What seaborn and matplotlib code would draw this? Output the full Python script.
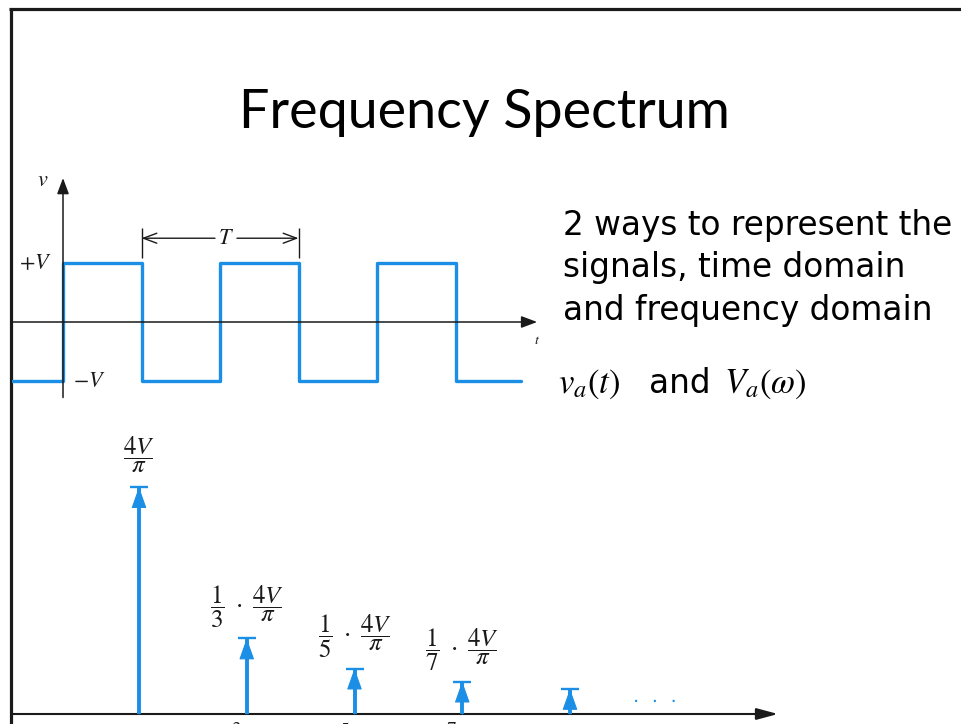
import matplotlib
matplotlib.use("Agg")
import matplotlib.pyplot as plt
import seaborn as sns

sns.set_theme(style="white")
plt.rcParams["font.family"] = ["DejaVu Sans"]
plt.rcParams["mathtext.fontset"] = "stix"

# ---- data ---------------------------------------------------------------
# square wave: time in periods T, level in units of V
wave_t = [-0.325, 0.0, 0.5, 1.0, 1.5, 2.0, 2.5, 2.92]
wave_v = [-1, 1, -1, 1, -1, 1, -1, -1]

# line spectrum of the square wave: odd harmonics, amplitude in units of V
harmonics = [1, 3, 5, 7, 9]
amplitudes = [1.273, 0.424, 0.255, 0.182, 0.141]
amp_labels = [r"$\dfrac{4V}{\pi}$",
              r"$\dfrac{1}{3}\ \cdot\ \dfrac{4V}{\pi}$",
              r"$\dfrac{1}{5}\ \cdot\ \dfrac{4V}{\pi}$",
              r"$\dfrac{1}{7}\ \cdot\ \dfrac{4V}{\pi}$",
              ""]
freq_labels = [r"$\omega_0$", r"$3\omega_0$", r"$5\omega_0$", r"$7\omega_0$", ""]

title = "Frequency Spectrum"
body_lines = ["2 ways to represent the", "signals, time domain", "and frequency domain"]

# ---- styling ------------------------------------------------------------
BLUE = "#1B8EE6"
INK = "#1a1a1a"
W, H = 961, 724

fig = plt.figure(figsize=(W / 100, H / 100), dpi=100, facecolor="white")
renderer = fig.canvas.get_renderer()

# full-page layer in pixel units for the slide frame and text
bg = fig.add_axes([0, 0, 1, 1])
bg.set_xlim(0, W)
bg.set_ylim(H, 0)
bg.axis("off")

bg.plot([9, W], [8.5, 8.5], color=INK, lw=2.3, solid_capstyle="butt")
bg.plot([10.5, 10.5], [7.5, H], color=INK, lw=2.3, solid_capstyle="butt")


def fit_text(ax, x, y, s, target_w, **kw):
    t = ax.text(x, y, s, fontsize=20, **kw)
    w = t.get_window_extent(renderer).width
    t.set_fontsize(20 * target_w / w)
    return t


fit_text(bg, 484.5, 128, title, 493, family=["Lato", "DejaVu Sans"],
         ha="center", va="baseline", color="black")

body_base = [235, 277, 320]
size_ref = None
for line, yb in zip(body_lines, body_base):
    if size_ref is None:
        t = fit_text(bg, 563, yb, line, 389, ha="left", va="baseline", color="black")
        size_ref = t.get_fontsize()
    else:
        bg.text(563, yb, line, fontsize=size_ref, ha="left", va="baseline", color="black")

bg.text(558, 393, r"$v_a(t)$", fontsize=25, ha="left", va="baseline", color="black")
bg.text(649, 393, "and", fontsize=size_ref, ha="left", va="baseline", color="black")
bg.text(724, 393, r"$V_a(\omega)$", fontsize=25, ha="left", va="baseline", color="black")


def px_axes(x0, x1, y0, y1):
    ax = fig.add_axes([x0 / W, 1 - y1 / H, (x1 - x0) / W, (y1 - y0) / H])
    ax.axis("off")
    ax.patch.set_alpha(0)
    return ax


# ---- time domain --------------------------------------------------------
ax_t = px_axes(12, 545, 165, 402)
ax_t.set_xlim((12 - 63) / 157, (545 - 63) / 157)
ax_t.set_ylim((322 - 402) / 59, (322 - 165) / 59)

sns.lineplot(x=wave_t, y=wave_v, ax=ax_t, drawstyle="steps-post", color=BLUE,
             lw=2.4, estimator=None, sort=False, legend=False, zorder=3)

axis_arrow = dict(arrowstyle="-|>,head_length=0.8,head_width=0.3", color=INK,
                  lw=1.1, shrinkA=0, shrinkB=0, mutation_scale=12)
ax_t.annotate("", xy=(3.02, 0), xytext=(-0.33, 0), arrowprops=axis_arrow)
ax_t.annotate("", xy=(0, 2.44), xytext=(0, -1.28), arrowprops=axis_arrow)

# period marker
ax_t.vlines([0.5, 1.5], 1.085, 1.59, color=INK, lw=1.0)
dim_arrow = dict(arrowstyle="->,head_length=0.8,head_width=0.3", color=INK,
                 lw=1.0, shrinkA=0, shrinkB=0, mutation_scale=12)
ax_t.annotate("", xy=(0.5, 1.42), xytext=(0.968, 1.42), arrowprops=dim_arrow)
ax_t.annotate("", xy=(1.5, 1.42), xytext=(1.108, 1.42), arrowprops=dim_arrow)
ax_t.text(1.04, 1.42, r"$T$", fontsize=16, ha="center", va="center", color=INK)

ax_t.text(-0.127, 2.41, r"$v$", fontsize=16, ha="center", va="center", color=INK)
ax_t.text(-0.178, 1.0, r"$+V$", fontsize=16, ha="center", va="center", color=INK)
ax_t.text(0.165, -1.0, r"$-V$", fontsize=16, ha="center", va="center", color=INK)
ax_t.text(3.02, -0.30, r"$t$", fontsize=10, ha="center", va="center", color=INK)

# ---- frequency domain ---------------------------------------------------
PX_N = 53.875
PX_A = 178.3
ax_f = px_axes(12, 800, 415, 724)
ax_f.set_xlim(1 + (12 - 139) / PX_N, 1 + (800 - 139) / PX_N)
ax_f.set_ylim((714 - 724) / PX_A, (714 - 415) / PX_A)

ax_f.annotate("", xy=(12.86, 0), xytext=(1 + (11 - 139) / PX_N, 0),
              arrowprops=dict(arrowstyle="-|>,head_length=1.3,head_width=0.35",
                              color=INK, lw=1.5, shrinkA=0, shrinkB=0,
                              mutation_scale=10))

ax_f.vlines(harmonics, 0, amplitudes, color=BLUE, lw=2.8, zorder=3)
for n, a in zip(harmonics, amplitudes):
    ax_f.annotate("", xy=(n, a), xytext=(n, 0),
                  arrowprops=dict(arrowstyle="-|>,head_length=1.35,head_width=0.48",
                                  color=BLUE, lw=0.8, shrinkA=0, shrinkB=0,
                                  mutation_scale=10), zorder=4)
sns.scatterplot(x=harmonics, y=amplitudes, ax=ax_f, marker="_", s=170,
                linewidth=1.7, color=BLUE, legend=False, zorder=5)

for n, a, lab in zip(harmonics, amplitudes, amp_labels):
    if lab:
        ax_f.annotate(lab, xy=(n, a), xytext=(0, 32), textcoords="offset pixels",
                      ha="center", va="center", fontsize=18, color=INK)
for n, lab in zip(harmonics, freq_labels):
    if lab:
        ax_f.annotate(lab, xy=(n, 0), xytext=(0, -6), textcoords="offset pixels",
                      ha="center", va="top", fontsize=14, color=INK)

bg.text(655, 708, "·  ·  ·", fontsize=14, ha="center", va="baseline", color=BLUE)

fig.savefig("out.png", dpi=100, facecolor="white")
